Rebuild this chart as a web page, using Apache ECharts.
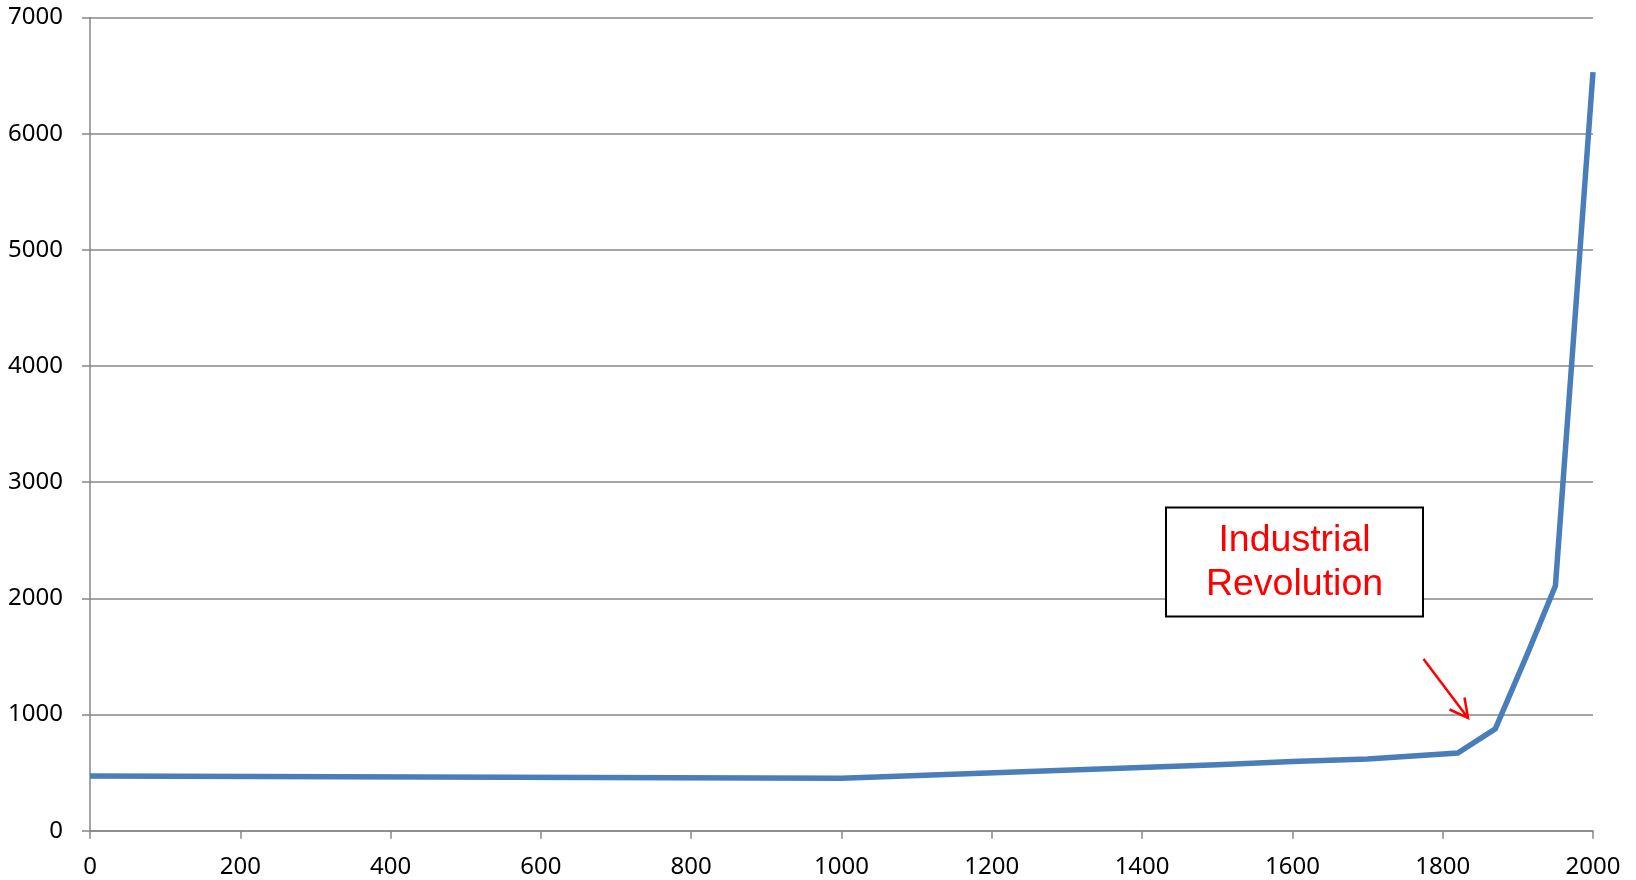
<!DOCTYPE html>
<html>
<head>
<meta charset="utf-8">
<script src="https://cdn.jsdelivr.net/npm/echarts@6/dist/echarts.min.js"></script>
<style>
html,body{margin:0;padding:0;background:#fff;}
#chart{width:1636px;height:880px;}
</style>
</head>
<body>
<div id="chart"></div>
<script>
const years = [0, 1000, 1500, 1600, 1700, 1820, 1870, 1913, 1950, 2000];
const gdpPerCapita = [470, 451, 568, 596, 617, 668, 877, 1526, 2108, 6530];
const xTicks = {min: 0, max: 2000, interval: 200};
const yTicks = {min: 0, max: 7000, interval: 1000};
const annotationText = ['Industrial', 'Revolution'];

const chart = echarts.init(document.getElementById('chart'));
const axisGray = '#878787';
const plainNumber = v => String(v);

chart.setOption({
  animation: false,
  backgroundColor: '#fff',
  grid: {left: 90, right: 43, top: 17.5, bottom: 49.3},
  xAxis: {
    type: 'value',
    min: xTicks.min, max: xTicks.max, interval: xTicks.interval,
    axisLine: {show: true, lineStyle: {color: axisGray, width: 1.5}},
    axisTick: {show: true, length: 8, inside: false, lineStyle: {color: axisGray, width: 1.5}},
    axisLabel: {margin: 24, fontFamily: 'Noto Sans', fontSize: 24, color: '#000', formatter: plainNumber},
    splitLine: {show: false}
  },
  yAxis: {
    type: 'value',
    min: yTicks.min, max: yTicks.max, interval: yTicks.interval,
    axisLine: {show: true, lineStyle: {color: axisGray, width: 1.5}},
    axisTick: {show: true, length: 8, inside: false, lineStyle: {color: axisGray, width: 1.5}},
    axisLabel: {margin: 27, fontFamily: 'Noto Sans', fontSize: 24, color: '#000', formatter: plainNumber},
    splitLine: {show: true, lineStyle: {color: axisGray, width: 1.5}}
  },
  series: [{
    type: 'line',
    data: years.map((y, i) => [y, gdpPerCapita[i]]),
    symbol: 'none',
    smooth: false,
    lineStyle: {color: '#4a7ebb', width: 5.5, join: 'miter'},
    z: 3
  }],
  graphic: [
    {
      type: 'rect',
      shape: {x: 1166, y: 507.5, width: 257, height: 109},
      style: {fill: '#fff', stroke: '#000', lineWidth: 2},
      z: 10
    },
    {
      type: 'text',
      x: 1294.5, y: 563,
      style: {
        text: annotationText.join('\n'),
        fill: '#ff0000',
        font: '37.5px "Liberation Sans", Arial, sans-serif',
        lineHeight: 44,
        align: 'center',
        verticalAlign: 'middle'
      },
      z: 11
    },
    {
      type: 'polyline',
      shape: {points: [[1423.5, 659], [1468, 718]]},
      style: {stroke: '#ff0000', lineWidth: 2.5, fill: null},
      z: 11
    },
    {
      type: 'polyline',
      shape: {points: [[1449.5, 709.5], [1468, 718], [1464.5, 697.5]]},
      style: {stroke: '#ff0000', lineWidth: 2.5, fill: null},
      z: 11
    }
  ]
});
</script>
</body>
</html>
